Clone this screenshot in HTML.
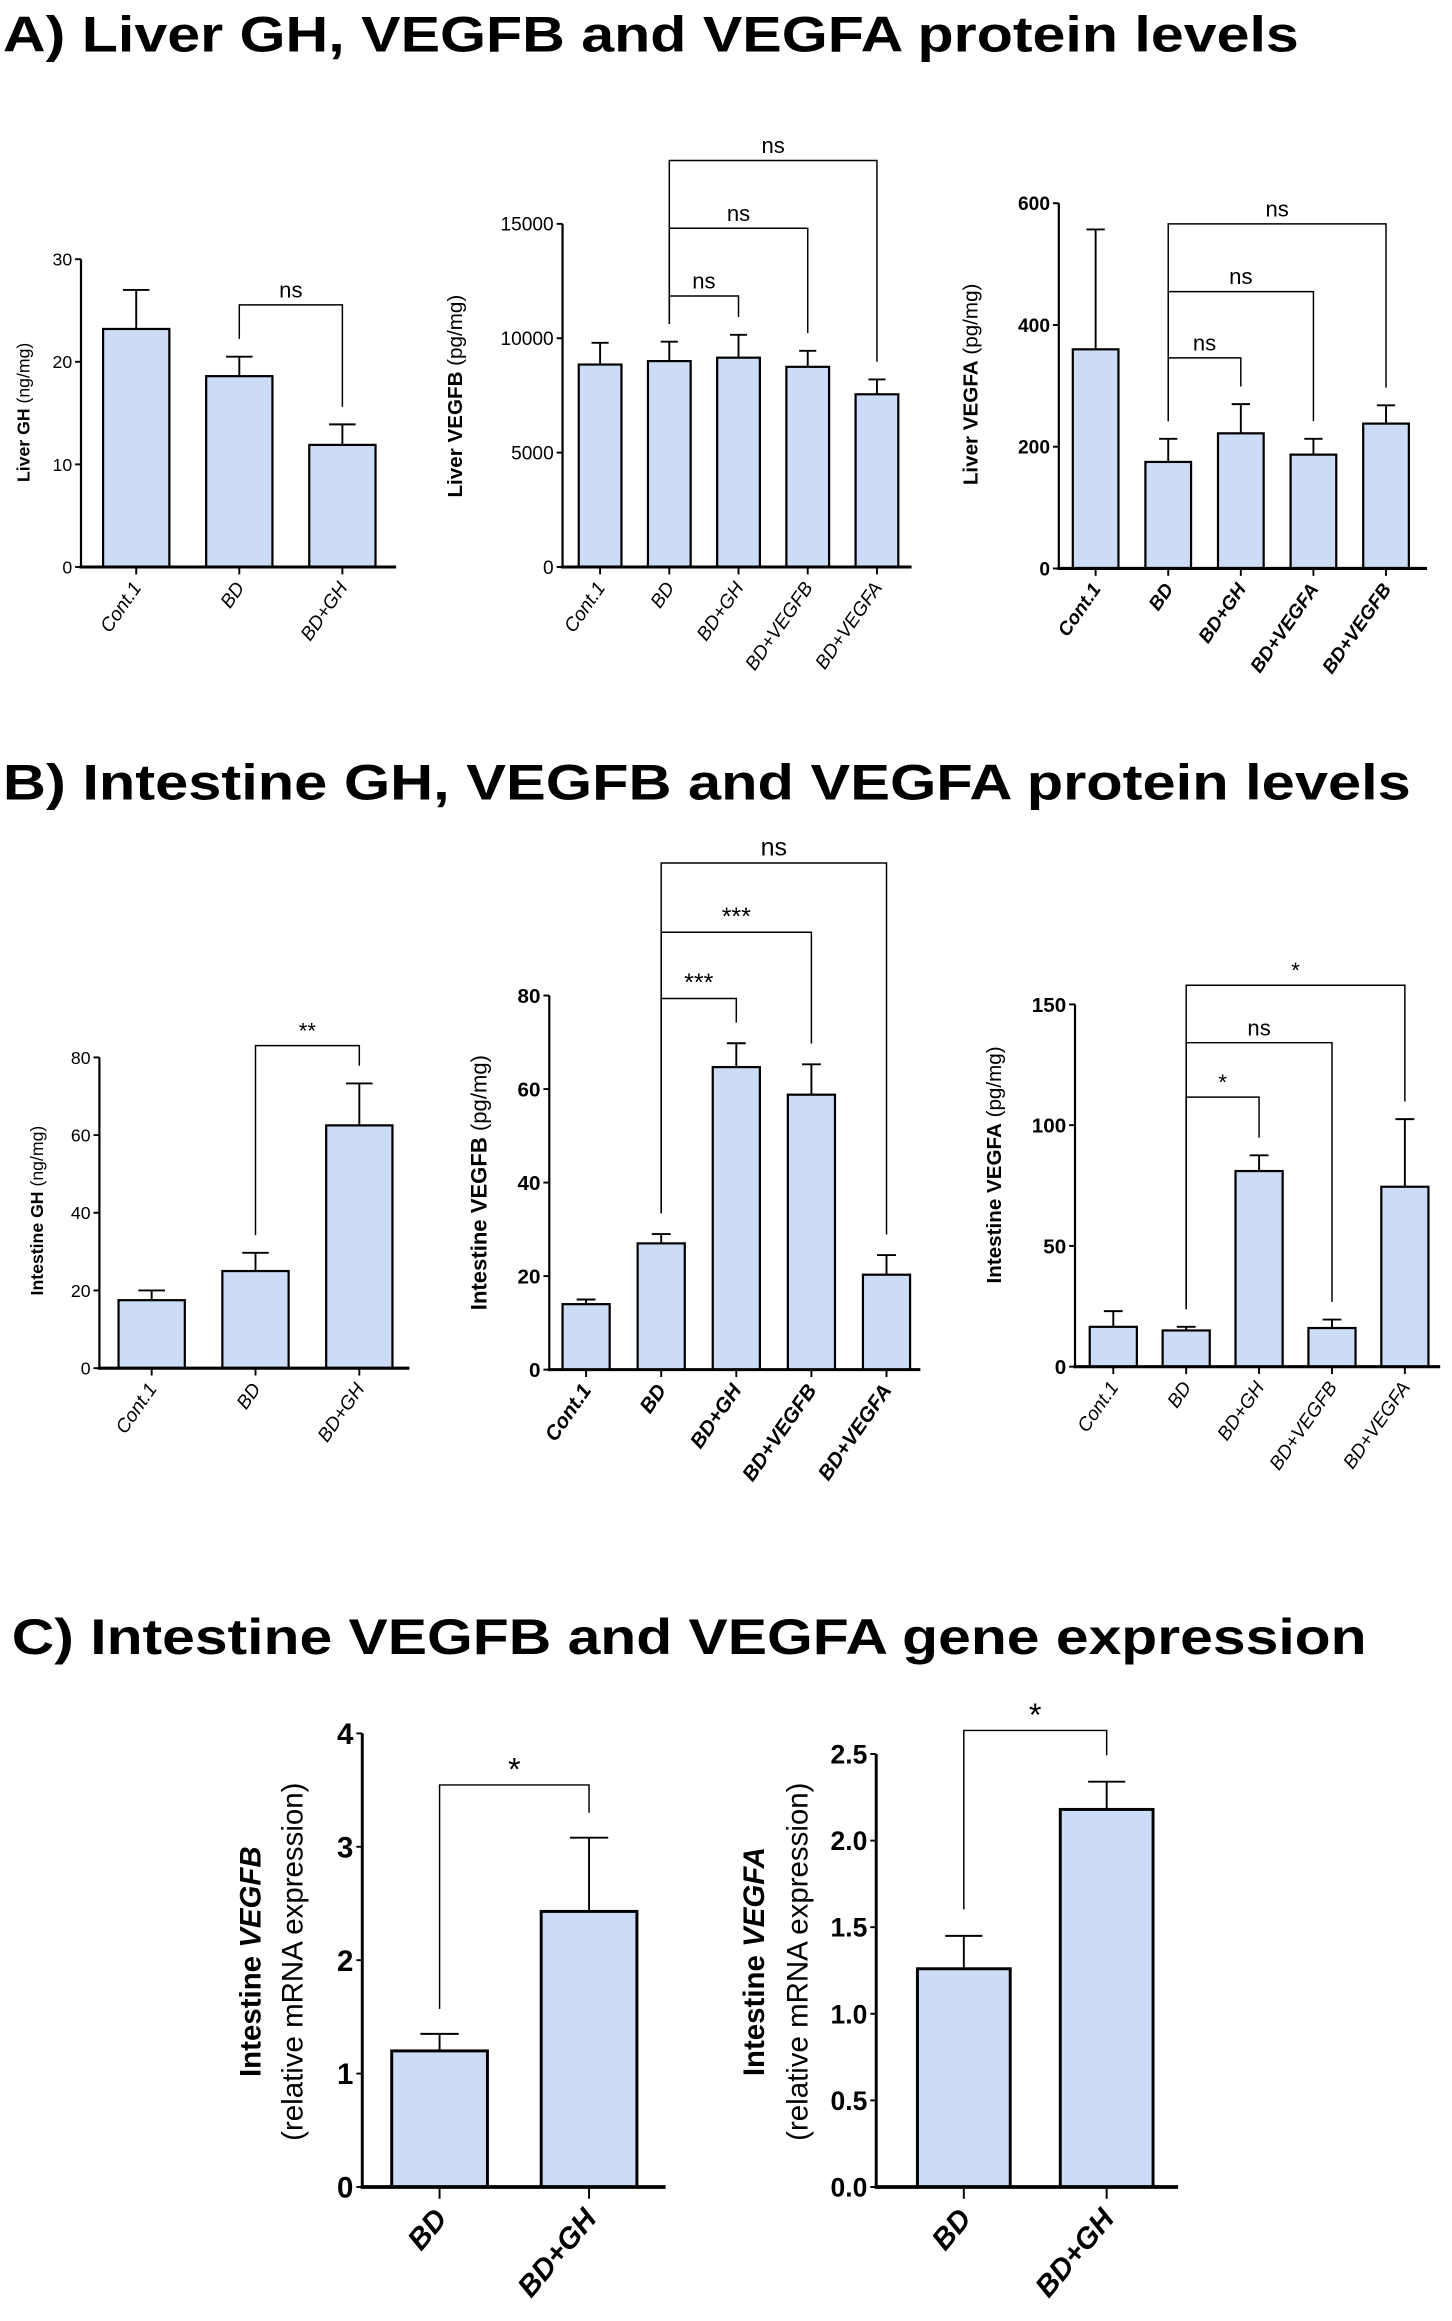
<!DOCTYPE html>
<html><head><meta charset="utf-8"><style>
html,body{margin:0;padding:0;background:#fff}
svg{display:block}
text{font-family:"Liberation Sans",sans-serif;fill:#000}
</style></head><body>
<svg id="fig" width="1452" height="2321" viewBox="0 0 986 1576" preserveAspectRatio="none" xmlns="http://www.w3.org/2000/svg">
<text x="2" y="35" font-size="34" font-weight="bold" textLength="880" lengthAdjust="spacingAndGlyphs">A) Liver GH, VEGFB and VEGFA  protein levels</text>
<text x="2" y="543" font-size="34" font-weight="bold" textLength="956" lengthAdjust="spacingAndGlyphs">B) Intestine GH, VEGFB and VEGFA  protein levels</text>
<text x="8" y="1123" font-size="34" font-weight="bold" textLength="920" lengthAdjust="spacingAndGlyphs">C) Intestine VEGFB and VEGFA  gene expression</text>
</svg>
<script>
// ---- data ----
const a1Cats = ["Cont.1","BD","BD+GH"];
const a1Vals = [23.2,18.6,11.9];
const a1Errs = [27,20.5,13.9];
const a1Ticks = [0,10,20,30];
const a1Sig = [[1,2,"ns"]];

const a2Cats = ["Cont.1","BD","BD+GH","BD+VEGFB","BD+VEGFA"];
const a2Vals = [8850,9000,9150,8750,7550];
const a2Errs = [9800,9850,10150,9450,8200];
const a2Ticks = [0,5000,10000,15000];
const a2Sig = [[1,2,"ns"],[1,3,"ns"],[1,4,"ns"]];

const a3Cats = ["Cont.1","BD","BD+GH","BD+VEGFA","BD+VEGFB"];
const a3Vals = [360,175,222,187,238];
const a3Errs = [557,213,270,213,268];
const a3Ticks = [0,200,400,600];
const a3Sig = [[1,2,"ns"],[1,3,"ns"],[1,4,"ns"]];

const b1Cats = ["Cont.1","BD","BD+GH"];
const b1Vals = [17.5,25,62.5];
const b1Errs = [20,29.7,73.3];
const b1Ticks = [0,20,40,60,80];
const b1Sig = [[1,2,"**"]];

const b2Cats = ["Cont.1","BD","BD+GH","BD+VEGFB","BD+VEGFA"];
const b2Vals = [14,27,64.7,58.8,20.3];
const b2Errs = [15,29,69.8,65.3,24.5];
const b2Ticks = [0,20,40,60,80];
const b2Sig = [[1,2,"***"],[1,3,"***"],[1,4,"ns"]];

const b3Cats = ["Cont.1","BD","BD+GH","BD+VEGFB","BD+VEGFA"];
const b3Vals = [16.5,15,81,16,74.5];
const b3Errs = [23,16.5,87.5,19.5,102.5];
const b3Ticks = [0,50,100,150];
const b3Sig = [[1,2,"*"],[1,3,"ns"],[1,4,"*"]];

const c1Cats = ["BD","BD+GH"];
const c1Vals = [1.2,2.43];
const c1Errs = [1.35,3.08];
const c1Ticks = ["0","1","2","3","4"];
const c1Sig = [[0,1,"*"]];

const c2Cats = ["BD","BD+GH"];
const c2Vals = [1.26,2.18];
const c2Errs = [1.45,2.34];
const c2Ticks = ["0.0","0.5","1.0","1.5","2.0","2.5"];
const c2Sig = [[0,1,"*"]];

// ---- drawing ----
const NS="http://www.w3.org/2000/svg";
const svg=document.getElementById('fig');
function mk(tag,attrs,parent){const e=document.createElementNS(NS,tag);for(const k in attrs)e.setAttribute(k,attrs[k]);(parent||svg).appendChild(e);return e;}

function chart(id,cats,vals,errs,ticks,sig,L){
  const g=mk('g',{});
  
  
  const tmax=parseFloat(ticks[ticks.length-1]);
  const y=v=>L.y0-(v/tmax)*(L.y0-L.top);
  const x=i=>L.c0+i*L.step;
  cats.forEach((c,i)=>{
    const yv=y(vals[i]), ye=y(errs[i]);
    const eb=mk('line',{x1:x(i),x2:x(i),y1:yv,y2:ye,stroke:'#000','stroke-width':1.3},g);
    
    
    const cap=mk('line',{x1:x(i)-L.bw*0.2,x2:x(i)+L.bw*0.2,y1:ye,y2:ye,stroke:'#000','stroke-width':1.3},g);
    
    
    const r=mk('rect',{x:x(i)-L.bw/2,y:yv,width:L.bw,height:L.y0-yv,fill:'#cddcf6',stroke:'#000','stroke-width':L.sw},g);
    
    
    const tk=mk('line',{x1:x(i),x2:x(i),y1:L.y0,y2:L.y0+L.tick,stroke:'#000','stroke-width':1.3},g);
    
    
    const t=mk('text',{x:x(i)+L.lx,y:L.y0+L.ly,'font-size':L.xfs,'font-style':'italic','font-weight':L.xbold?'bold':'normal','text-anchor':'end',transform:`rotate(${L.rot} ${x(i)+L.lx} ${L.y0+L.ly})`},g);
    t.textContent=c;
    
    
  });
  const ya=mk('line',{x1:L.ax,x2:L.ax,y1:L.y0+1,y2:L.top,stroke:'#000','stroke-width':L.sw},g);
  
  
  const xa=mk('line',{x1:L.ax-1,x2:L.xEnd,y1:L.y0,y2:L.y0,stroke:'#000','stroke-width':L.sw+0.6},g);
  
  
  ticks.forEach((tv,k)=>{
    const yy=y(parseFloat(tv));
    const tl=mk('line',{x1:L.ax-4,x2:L.ax,y1:yy,y2:yy,stroke:'#000','stroke-width':1.3},g);
    
    
    const t=mk('text',{x:L.ax-6,y:yy+L.yfs*0.36,'font-size':L.yfs,'font-weight':L.ybold?'bold':'normal','text-anchor':'end'},g);
    t.textContent=tv;
    
    
  });
  const yt=mk('text',{x:L.tx,y:L.ty,'font-size':L.tfs,'text-anchor':'middle','dominant-baseline':'central',transform:`rotate(-90 ${L.tx} ${L.ty})`},g);
  
  
  L.title.forEach(p=>{const s=mk('tspan',{'font-weight':p[1]?'bold':'normal','font-style':p[2]?'italic':'normal'},yt);s.textContent=p[0];});
  if(L.title2){
    const y2=mk('text',{x:L.tx2,y:L.ty,'font-size':L.tfs,'text-anchor':'middle','dominant-baseline':'central',transform:`rotate(-90 ${L.tx2} ${L.ty})`},g);
    y2.textContent=L.title2;
    
    
  }
  sig.forEach((s,k)=>{
    const by=L.by[k];
    const x1=x(s[0]),x2=x(s[1]);
    const lb=y(errs[s[0]])-L.gap, rb=y(errs[s[1]])-L.gap;
    const p=mk('path',{d:`M${x1},${lb}V${by}H${x2}V${rb}`,fill:'none',stroke:'#000','stroke-width':1},g);
    
    
    const t=mk('text',{x:(x1+x2)/2,y:by-L.sg,'font-size':L.sfs,'text-anchor':'middle'},g);
    t.textContent=s[2];
    
    
  });
}

const base={sw:1.5,tick:5,lx:4,ly:14,rot:-55,xfs:13,yfs:12,tfs:12,sfs:15,sg:5,gap:12};
chart('a1',a1Cats,a1Vals,a1Errs,a1Ticks,a1Sig,Object.assign({},base,{ax:55,y0:385,top:176,c0:92.5,step:70,bw:45,xEnd:269,tx:16,ty:280,title:[["Liver GH",true],[" (ng/mg)",false]],by:[207]}));
chart('a2',a2Cats,a2Vals,a2Errs,a2Ticks,a2Sig,Object.assign({},base,{ax:382,y0:385,top:152,c0:407.5,step:47,bw:29,xEnd:619,yfs:13,tx:309,ty:269,tfs:14,title:[["Liver VEGFB",true],[" (pg/mg)",false]],by:[201,155,109]}));
chart('a3',a3Cats,a3Vals,a3Errs,a3Ticks,a3Sig,Object.assign({},base,{ax:719,y0:386,top:138,c0:744,step:49.3,bw:31,xEnd:969,xbold:true,ybold:true,yfs:13,tx:659,ty:261,tfs:14,title:[["Liver VEGFA",true],[" (pg/mg)",false]],by:[243,198,152]}));
chart('b1',b1Cats,b1Vals,b1Errs,b1Ticks,b1Sig,Object.assign({},base,{ax:67.5,y0:929,top:718,c0:103,step:70.5,bw:45,xEnd:278,tx:25,ty:822,tfs:12,title:[["Intestine GH",true],[" (ng/mg)",false]],by:[710]}));
chart('b2',b2Cats,b2Vals,b2Errs,b2Ticks,b2Sig,Object.assign({},base,{ax:373,y0:930,top:676,c0:398,step:51,bw:32,xEnd:625,xbold:true,yfs:14,ybold:true,xfs:14,tx:325,ty:803,tfs:15,sfs:17,title:[["Intestine VEGFB",true],[" (pg/mg)",false]],by:[678,633,586],gap:14}));
chart('b3',b3Cats,b3Vals,b3Errs,b3Ticks,b3Sig,Object.assign({},base,{ax:730,y0:928,top:682,c0:756,step:49.5,bw:32,xEnd:978,yfs:14,ybold:true,tx:675,ty:791,tfs:14,title:[["Intestine VEGFA",true],[" (pg/mg)",false]],by:[745,708,669]}));
chart('c1',c1Cats,c1Vals,c1Errs,c1Ticks,c1Sig,Object.assign({},base,{sw:2,ax:246,y0:1485,top:1177,c0:298.5,step:101.5,bw:65,xEnd:452,tick:8,lx:6,ly:22,rot:-50,xfs:20,xbold:true,yfs:20,ybold:true,tx:170,tx2:199,ty:1332,tfs:20,sfs:22,sg:3,gap:17,title:[["Intestine ",true],["VEGFB",true,true]],title2:"(relative mRNA expression)",by:[1212]}));
chart('c2',c2Cats,c2Vals,c2Errs,c2Ticks,c2Sig,Object.assign({},base,{sw:2,ax:595,y0:1485,top:1191,c0:654.5,step:97,bw:63,xEnd:800,tick:8,lx:6,ly:22,rot:-50,xfs:20,xbold:true,yfs:18,ybold:true,tx:512,tx2:542,ty:1332,tfs:20,sfs:22,sg:3,gap:18,title:[["Intestine ",true],["VEGFA",true,true]],title2:"(relative mRNA expression)",by:[1175]}));
</script>
</body></html>
